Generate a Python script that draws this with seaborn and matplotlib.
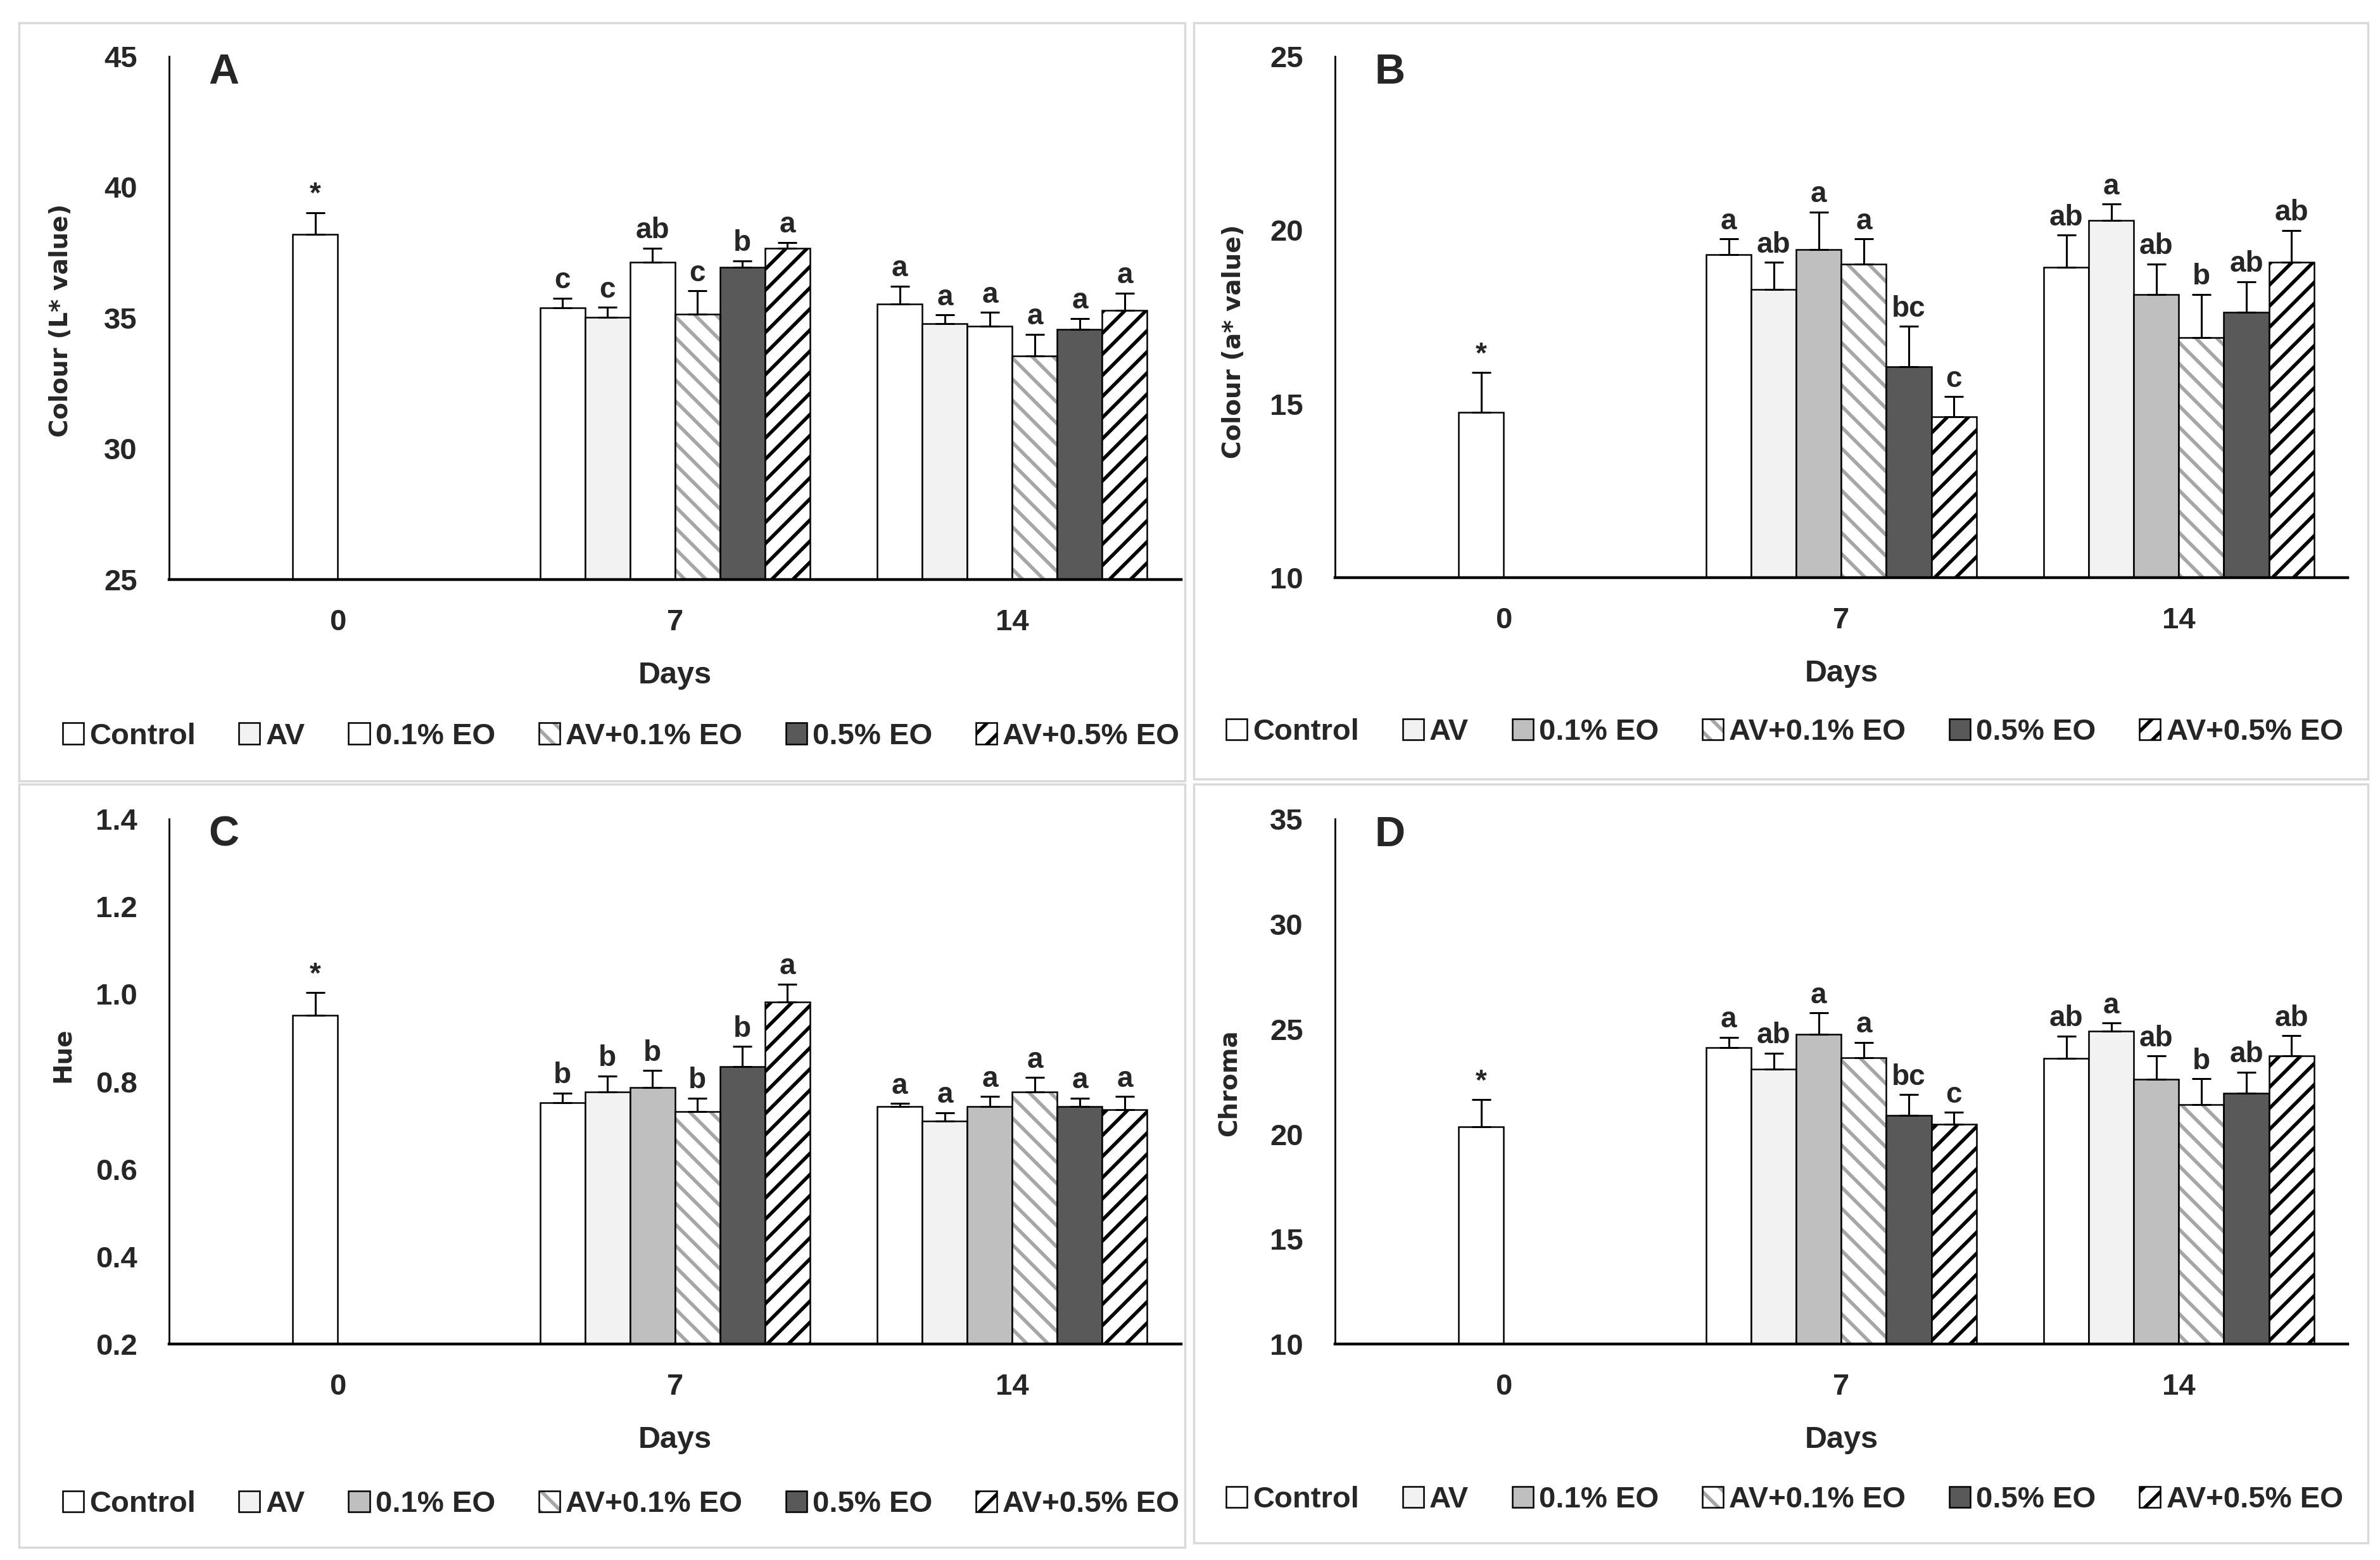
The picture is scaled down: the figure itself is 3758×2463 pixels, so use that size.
import numpy as np
import matplotlib
matplotlib.use("Agg")
import matplotlib.pyplot as plt
from matplotlib.patches import Patch, Rectangle
import seaborn as sns

# categories
DAYS = ["0", "7", "14"]
TREATMENTS = ["Control", "AV", "0.1% EO", "AV+0.1% EO", "0.5% EO", "AV+0.5% EO"]

# Panel A - Colour (L* value)
A_DAY0 = 38.2
A_DAY0_ERR = 0.83
A_MEAN_D7 = [35.38, 35.02, 37.12, 35.15, 36.93, 37.67]
A_ERR_D7 = [0.38, 0.38, 0.55, 0.88, 0.25, 0.21]
A_MEAN_D14 = [35.53, 34.77, 34.68, 33.55, 34.56, 35.29]
A_ERR_D14 = [0.69, 0.34, 0.53, 0.82, 0.42, 0.66]
A_LET_D7 = ["c", "c", "ab", "c", "b", "a"]
A_LET_D14 = ["a", "a", "a", "a", "a", "a"]

# Panel B - Colour (a* value)
B_DAY0 = 14.75
B_DAY0_ERR = 1.15
B_MEAN_D7 = [19.29, 18.29, 19.44, 19.03, 16.08, 14.64]
B_ERR_D7 = [0.46, 0.78, 1.08, 0.72, 1.15, 0.57]
B_MEAN_D14 = [18.93, 20.29, 18.15, 16.91, 17.64, 19.07]
B_ERR_D14 = [0.93, 0.46, 0.88, 1.24, 0.88, 0.92]
B_LET_D7 = ["a", "ab", "a", "a", "bc", "c"]
B_LET_D14 = ["ab", "a", "ab", "b", "ab", "ab"]

# Panel C - Hue
C_DAY0 = 0.952
C_DAY0_ERR = 0.051
C_MEAN_D7 = [0.751, 0.776, 0.786, 0.731, 0.834, 0.982]
C_ERR_D7 = [0.023, 0.037, 0.039, 0.031, 0.046, 0.041]
C_MEAN_D14 = [0.743, 0.709, 0.743, 0.776, 0.743, 0.736]
C_ERR_D14 = [0.007, 0.020, 0.023, 0.033, 0.019, 0.030]
C_LET_D7 = ["b", "b", "b", "b", "b", "a"]
C_LET_D14 = ["a", "a", "a", "a", "a", "a"]

# Panel D - Chroma
D_DAY0 = 20.34
D_DAY0_ERR = 1.31
D_MEAN_D7 = [24.11, 23.08, 24.76, 23.63, 20.89, 20.48]
D_ERR_D7 = [0.50, 0.77, 1.00, 0.74, 0.98, 0.55]
D_MEAN_D14 = [23.61, 24.90, 22.61, 21.39, 21.94, 23.71]
D_ERR_D14 = [1.05, 0.38, 1.10, 1.24, 1.00, 0.97]
D_LET_D7 = ["a", "ab", "a", "a", "bc", "c"]
D_LET_D14 = ["ab", "a", "ab", "b", "ab", "ab"]

# styles: (facecolor, hatch, hatch colour)
STYLES = [
    ("#FFFFFF", None, None),
    ("#F2F2F2", None, None),
    ("#BFBFBF", None, None),
    ("#FFFFFF", "\\", "#A6A6A6"),
    ("#595959", None, None),
    ("#FFFFFF", "/", "#000000"),
]

sns.set_theme(style="white")
plt.rcParams['font.family'] = ['Liberation Sans', 'DejaVu Sans']
plt.rcParams['font.weight'] = 'bold'
plt.rcParams['hatch.linewidth'] = 4

TICK_FS = 34
LET_FS = 33
BW = 0.8 / 6
EDGE_LW = 1.8


def draw_bar(ax, x, h, ymin, style):
    face, hatch, hcol = style
    if hatch is None:
        ax.bar(x, h - ymin, BW, bottom=ymin, color=face, edgecolor="black",
               linewidth=EDGE_LW, zorder=2)
    else:
        ax.bar(x, h - ymin, BW, bottom=ymin, color=face, edgecolor=hcol,
               hatch=hatch, linewidth=0, zorder=2)
        ax.bar(x, h - ymin, BW, bottom=ymin, fill=False, edgecolor="black",
               linewidth=EDGE_LW, zorder=3)


def draw_panel(ax, ylim, yticks, yfmt, ylabel, ylab_pos, tag, day0, day0_err,
               m7, e7, m14, e14, l7, l14, styles):
    ymin = ylim[0]
    # day 0: control only
    x0 = 0 - BW / 2
    draw_bar(ax, x0, day0, ymin, styles[0])
    ax.errorbar([x0], [day0], yerr=[[0], [day0_err]], fmt="none", ecolor="black",
                elinewidth=2.2, capsize=11, capthick=2.2, zorder=4)
    ax.annotate("*", (x0, day0 + day0_err), xytext=(0, 4), textcoords="offset points",
                ha="center", va="bottom", fontsize=LET_FS, fontweight="bold")
    for d, (means, errs, lets) in enumerate([(m7, e7, l7), (m14, e14, l14)], start=1):
        for i in range(6):
            x = d + (i - 2.5) * BW
            draw_bar(ax, x, means[i], ymin, styles[i])
            ax.errorbar([x], [means[i]], yerr=[[0], [errs[i]]], fmt="none", ecolor="black",
                        elinewidth=2.2, capsize=11, capthick=2.2, zorder=4)
            ax.annotate(lets[i], (x, means[i] + errs[i]), xytext=(0, 4),
                        textcoords="offset points", ha="center", va="bottom",
                        fontsize=LET_FS, fontweight="bold")
    ax.set_xlim(-0.5, 2.5)
    ax.set_ylim(*ylim)
    ax.set_yticks(yticks)
    ax.set_yticklabels([yfmt.format(v) for v in yticks], fontsize=TICK_FS, fontweight="bold")
    ax.set_xticks(range(3))
    ax.set_xticklabels(DAYS, fontsize=TICK_FS, fontweight="bold")
    ax.tick_params(axis="both", length=0)
    ax.tick_params(axis="y", pad=36)
    ax.tick_params(axis="x", pad=33)
    sns.despine(ax=ax)
    ax.spines["left"].set_linewidth(2)
    ax.spines["left"].set_color("black")
    ax.spines["bottom"].set_linewidth(3.2)
    ax.spines["bottom"].set_color("black")
    ax.set_xlabel("Days", fontsize=35, fontweight="bold", labelpad=28)
    ax.set_ylabel(ylabel, fontsize=28, fontweight="bold", family="DejaVu Sans")
    ax.yaxis.set_label_coords(*ylab_pos)
    ax.text(0.054, 0.969, tag, transform=ax.transAxes, fontsize=48, fontweight="bold",
            ha="center", va="center")


def legend_handles(styles):
    handles = []
    for face, hatch, hcol in styles:
        if hatch is None:
            handles.append(Patch(facecolor=face, edgecolor="black", linewidth=EDGE_LW))
        else:
            handles.append((Patch(facecolor=face, edgecolor=hcol, hatch=hatch, linewidth=0),
                            Patch(fill=False, edgecolor="black", linewidth=EDGE_LW)))
    return handles


fig = plt.figure(figsize=(37.58, 24.63), dpi=100)
fig.patch.set_facecolor("white")

# panel frames
for (l, b, r, t) in [(0.008, 0.4994, 0.4979, 0.9854), (0.5016, 0.5006, 0.995, 0.9854),
                     (0.008, 0.0081, 0.4979, 0.4974), (0.5016, 0.011, 0.995, 0.4974)]:
    fig.patches.append(Rectangle((l, b), r - l, t - b, transform=fig.transFigure,
                                 fill=False, edgecolor="#D9D9D9", linewidth=2.5))

axA = fig.add_axes([0.0710, 0.6285, 0.4252, 0.3354])
axB = fig.add_axes([0.5609, 0.6297, 0.4255, 0.3341])
axC = fig.add_axes([0.0710, 0.1384, 0.4252, 0.3366])
axD = fig.add_axes([0.5609, 0.1384, 0.4255, 0.3366])

styles_a = list(STYLES)
styles_a[2] = ("#FFFFFF", None, None)

draw_panel(axA, (25, 45), [25, 30, 35, 40, 45], "{:.0f}", "Colour (L* value)",
           (-0.095, 0.495), "A",
           A_DAY0, A_DAY0_ERR, A_MEAN_D7, A_ERR_D7, A_MEAN_D14, A_ERR_D14,
           A_LET_D7, A_LET_D14, styles_a)
draw_panel(axB, (10, 25), [10, 15, 20, 25], "{:.0f}", "Colour (a* value)",
           (-0.088, 0.453), "B",
           B_DAY0, B_DAY0_ERR, B_MEAN_D7, B_ERR_D7, B_MEAN_D14, B_ERR_D14,
           B_LET_D7, B_LET_D14, STYLES)
draw_panel(axC, (0.2, 1.4), [0.2, 0.4, 0.6, 0.8, 1.0, 1.2, 1.4], "{:.1f}", "Hue",
           (-0.093, 0.551), "C",
           C_DAY0, C_DAY0_ERR, C_MEAN_D7, C_ERR_D7, C_MEAN_D14, C_ERR_D14,
           C_LET_D7, C_LET_D14, STYLES)
draw_panel(axD, (10, 35), [10, 15, 20, 25, 30, 35], "{:.0f}", "Chroma",
           (-0.093, 0.497), "D",
           D_DAY0, D_DAY0_ERR, D_MEAN_D7, D_ERR_D7, D_MEAN_D14, D_ERR_D14,
           D_LET_D7, D_LET_D14, STYLES)

for ax, sty, pos in [(axA, styles_a, (0.2609, 0.528)), (axB, STYLES, (0.7498, 0.5307)),
                     (axC, STYLES, (0.2609, 0.0357)), (axD, STYLES, (0.7498, 0.0386))]:
    ax.legend(legend_handles(sty), TREATMENTS, loc="center", bbox_to_anchor=pos,
              bbox_transform=fig.transFigure, ncol=6, frameon=False,
              prop={"size": 34, "weight": "bold"}, handlelength=0.7, handleheight=0.7,
              handletextpad=0.2, columnspacing=1.45, borderpad=0)

fig.savefig("out.png", dpi=100, facecolor="white")
